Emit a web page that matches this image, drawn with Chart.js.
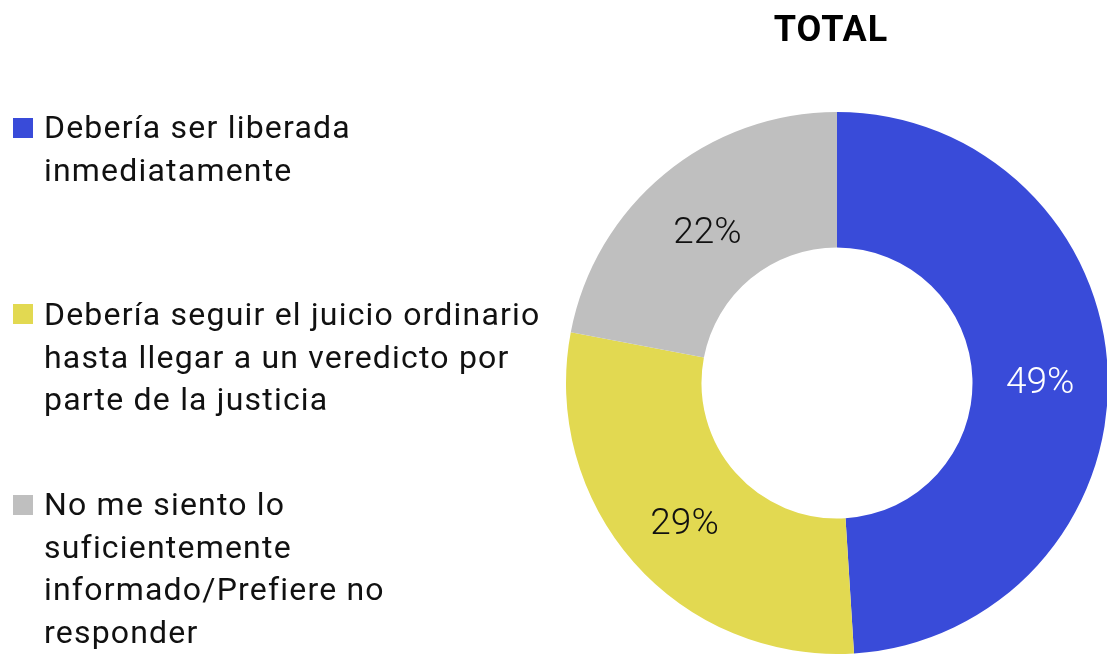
<!DOCTYPE html>
<html>
<head>
<meta charset="utf-8">
<script src="https://cdn.jsdelivr.net/npm/chart.js@4/dist/chart.umd.min.js"></script>
<style>
  html, body { margin: 0; padding: 0; width: 1107px; height: 656px; overflow: hidden; background: #fff; }
  #wrap { position: absolute; left: 0; top: 0; width: 1110px; height: 656px; }
  #title { position: absolute; left: 731px; width: 200px; top: 8px; text-align: center;
           font: bold 36px Roboto, sans-serif; color: #000; letter-spacing: 1px; }
  .item { position: absolute; left: 44px; font: 32px Roboto, sans-serif; line-height: 42.5px; color: #111; letter-spacing: 1.2px; white-space: nowrap; }
  .sw { position: absolute; left: 13px; width: 20px; height: 20px; }
</style>
</head>
<body>
<div id="wrap"><canvas id="c"></canvas></div>
<div id="title">TOTAL</div>
<div id="legend"></div>
<script>
const categories = [
  ["Debería ser liberada", "inmediatamente"],
  ["Debería seguir el juicio ordinario", "hasta llegar a un veredicto por", "parte de la justicia"],
  ["No me siento lo", "suficientemente", "informado/Prefiere no", "responder"]
];
const values = [49, 29, 22];
const colors = ["#394BD9", "#E2D951", "#BFBFBF"];
const labelColors = ["#ffffff", "#111111", "#111111"];

// legend (HTML)
const legendTops = [106, 293, 483];
const swatchTops = [118, 304, 495];
const legend = document.getElementById('legend');
categories.forEach((lines, i) => {
  const sw = document.createElement('div');
  sw.className = 'sw';
  sw.style.top = swatchTops[i] + 'px';
  sw.style.background = colors[i];
  legend.appendChild(sw);
  const t = document.createElement('div');
  t.className = 'item';
  t.style.top = legendTops[i] + 'px';
  t.innerHTML = lines.join('<br>');
  legend.appendChild(t);
});

const labelPlugin = {
  id: 'sliceLabels',
  afterDatasetsDraw(chart) {
    const ctx = chart.ctx;
    const meta = chart.getDatasetMeta(0);
    ctx.save();
    ctx.font = '300 37px Roboto, sans-serif';
    ctx.textAlign = 'center';
    ctx.textBaseline = 'middle';
    meta.data.forEach((arc, i) => {
      const p = arc.tooltipPosition();
      ctx.fillStyle = labelColors[i];
      ctx.fillText(values[i] + '%', p.x, p.y + 7);
    });
    ctx.restore();
  }
};

new Chart(document.getElementById('c'), {
  type: 'doughnut',
  data: {
    labels: categories.map(l => l.join(' ')),
    datasets: [{
      data: values,
      backgroundColor: colors,
      borderWidth: 0,
      hoverOffset: 0
    }]
  },
  options: {
    responsive: true,
    maintainAspectRatio: false,
    animation: false,
    cutout: '50%',
    layout: { padding: { left: 566, top: 112, right: 2, bottom: 2 } },
    plugins: {
      legend: { display: false },
      tooltip: { enabled: false },
      title: { display: false }
    }
  },
  plugins: [labelPlugin]
});
</script>
</body>
</html>
